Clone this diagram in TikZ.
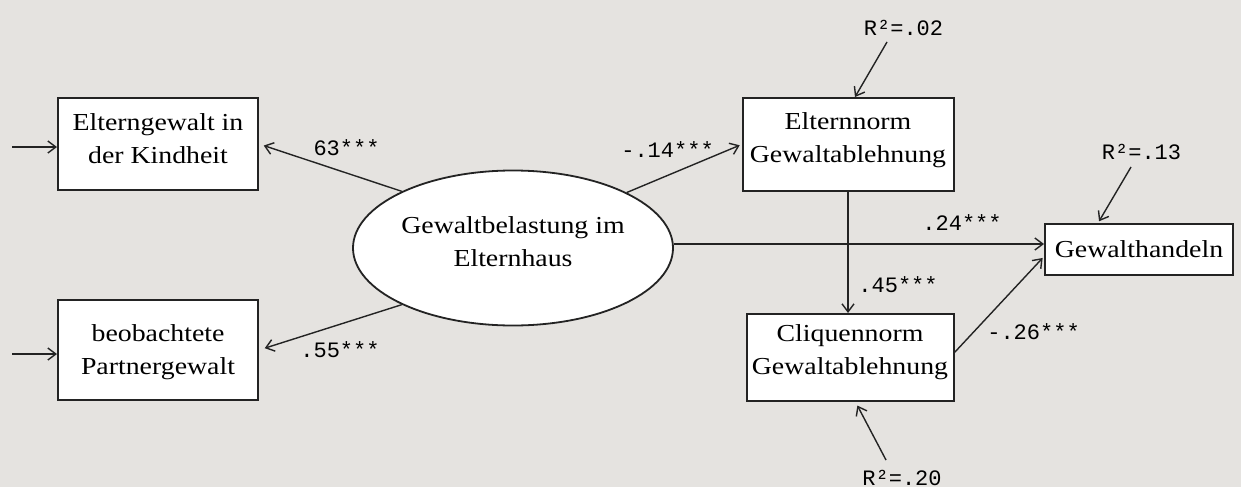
\documentclass[tikz,border=0pt]{standalone}
\usepackage{fontspec}
\usepackage{tikz}
\usetikzlibrary{arrows.meta,shapes.geometric,calc,positioning}

\newfontfamily\boxfont[FakeStretch=1.14]{Liberation Serif}
\newfontfamily\numfont{Liberation Mono}
\definecolor{bgcol}{RGB}{229,227,224}
\definecolor{linecol}{RGB}{35,35,35}

\begin{document}
\begin{tikzpicture}[>={Straight Barb[length=4pt,width=6pt]},x=0.5pt,y=-0.5pt]

  \tikzstyle{obs}=[rectangle, draw=linecol, line width=1pt, fill=white,
    minimum width=100pt, minimum height=46pt, inner sep=0pt, align=center,
    font=\boxfont\fontsize{12.2}{16.5}\selectfont];
  \tikzstyle{lat}=[ellipse, draw=linecol, line width=0.9pt, fill=white,
    minimum width=160pt, minimum height=77.5pt, inner sep=0pt, align=center,
    font=\boxfont\fontsize{12.2}{16.5}\selectfont];
  \tikzstyle{coef}=[inner sep=0pt, font=\numfont\fontsize{11}{13}\selectfont];
  \tikzstyle{conn}=[->, draw=linecol, line width=0.7pt];

  \fill [bgcol] (0,0) rectangle (1241,487);

  %% indicators
  \node [obs,text depth=5.5pt] (kind) at (158,144) {Elterngewalt in\\der Kindheit};
  \node [obs,minimum height=50pt,below=54pt of kind,text depth=-3.5pt] (partner) {beobachtete\\Partnergewalt};

  \node [lat,text depth=6pt] (belast) at (513,248) {Gewaltbelastung im\\Elternhaus};

  %% norms
  \node [obs,minimum width=105.5pt,minimum height=46.5pt,text depth=7.2pt] (eltnorm) at (848,144.5) {Elternnorm\\Gewaltablehnung};
  \node [obs,minimum width=103.5pt,minimum height=43.5pt,below=60.5pt of eltnorm,xshift=1pt,text depth=7.5pt] (clique) {Cliquennorm\\Gewaltablehnung};

  \node [obs,minimum width=94pt,minimum height=25.5pt] (handeln) at (1139,249.5) {Gewalthandeln};

  %% coefficients
  \node [coef] (k1) at (346.5,148) {63***};
  \node [coef] (k2) at (340,350) {.55***};
  \node [coef] (k3) at (667.5,150) {-.14***};
  \node [coef] (k4) at (962,223) {.24***};
  \node [coef] (k5) at (898,285) {.45***};
  \node [coef] (k6) at (1033.5,332) {-.26***};

  \node [coef] (r1) at (903.5,28) {R²=.02};
  \node [coef] (r2) at (1141.5,152) {R²=.13};
  \node [coef] (r3) at (902,478) {R²=.20};

  \coordinate (e1) at (12,147);
  \coordinate (e2) at (12,354);
  \coordinate (r1a) at (887,42);
  \coordinate (r2a) at (1131,167);
  \coordinate (r3a) at (886,460);

  %% paths
  \draw [conn] (e1) -- (e1 -| kind.west);
  \draw [conn] (e2) -- (e2 -| partner.west);

  \draw [conn,shorten >=2.5pt] (belast.153) -- (kind.east);
  \draw [conn,shorten >=3pt] (belast.207) -- (partner.east);
  \draw [conn,shorten >=1pt] (belast.26) -- (eltnorm.west);
  \draw [conn] ([yshift=2pt]belast.east) -- ([yshift=2pt]belast.east -| handeln.west);

  \draw [conn] (eltnorm.south) -- (eltnorm.south |- clique.north);
  \draw [conn,shorten >=1pt] ([yshift=2.5pt]clique.east) -- ([yshift=-3.5pt]handeln.west);

  \draw [conn] (r1a) -- ([xshift=3.5pt]eltnorm.north);
  \draw [conn,shorten >=1pt] (r2a) -- ([xshift=-20.5pt]handeln.north);
  \draw [conn,shorten >=2pt] (r3a) -- ([xshift=2.75pt]clique.south);

\end{tikzpicture}
\end{document}
